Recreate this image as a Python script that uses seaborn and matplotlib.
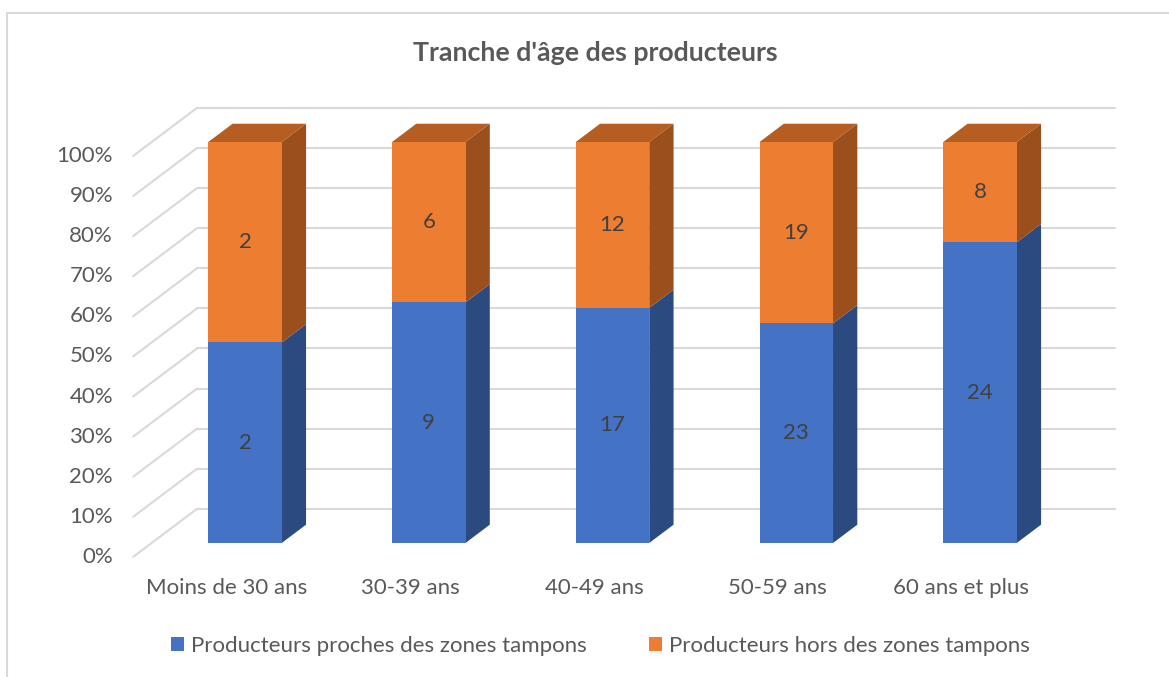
import numpy as np
import pandas as pd
import matplotlib
matplotlib.use("Agg")
import matplotlib.pyplot as plt
from matplotlib.patches import Polygon, Patch
from matplotlib.lines import Line2D
import seaborn as sns

# Data
categories = ["Moins de 30 ans", "30-39 ans", "40-49 ans", "50-59 ans", "60 ans et plus"]
proches = [2, 9, 17, 23, 24]
hors = [2, 6, 12, 19, 8]
series_names = ["Producteurs proches des zones tampons", "Producteurs hors des zones tampons"]
y_ticks = [0, 10, 20, 30, 40, 50, 60, 70, 80, 90, 100]
title = "Tranche d'âge des producteurs"

# Colours (Excel office palette + shaded 3D faces)
blue, blue_side = "#4472C4", "#2B4A80"
orange, orange_side, orange_top = "#ED7D31", "#9A4F1D", "#B65D22"
grid_col = "#D9D9D9"
text_col = "#595959"
FS = 16

sns.set_theme(style="white")
plt.rcParams['font.family'] = ['Lato', 'DejaVu Sans']

df = pd.DataFrame({
    "cat": categories,
    "total": 100.0,
    "proches_pct": [100 * p / (p + h) for p, h in zip(proches, hors)],
})

fig = plt.figure(figsize=(11.69, 6.77), dpi=100)
ax = fig.add_axes([61.25 / 1169, (677 - 599.1) / 677,
                   (1145.4 - 61.25) / 1169, (599.1 - 93.9) / 677])

# pseudo 3D: depth d in [0, 1] (front floor -> back wall), bars sit between D0 and D1
DX, DY = 0.348, 12.0
D0, D1 = 0.29, 0.67
W = 0.40


def proj(x, p, d):
    return x + DX * (d - D0), p + DY * (d - D0)


x_left, x_right = -0.508, 4.488
for t in y_ticks:
    a, b = proj(x_left, t, 1), proj(x_right, t, 1)
    ax.plot([a[0], b[0]], [a[1], b[1]], color=grid_col, lw=1.5, zorder=0)
    c = proj(x_left, t, 0)
    ax.plot([c[0], a[0]], [c[1], a[1]], color=grid_col, lw=1.5, zorder=0)
    ax.text(-0.718, t - DY * D0, f"{t}%", ha="right", va="center",
            fontsize=FS, color=text_col)

# front faces
sns.barplot(data=df, x="cat", y="total", color=orange, width=W, saturation=1,
            linewidth=0, ax=ax, zorder=3)
sns.barplot(data=df, x="cat", y="proches_pct", color=blue, width=W, saturation=1,
            linewidth=0, ax=ax, zorder=3)

# side and top faces
for i, pb in enumerate(df["proches_pct"]):
    xl, xr = i - W / 2, i + W / 2
    for lo, hi, col in [(0, pb, blue_side), (pb, 100, orange_side)]:
        pts = [proj(xr, lo, D0), proj(xr, lo, D1), proj(xr, hi, D1), proj(xr, hi, D0)]
        ax.add_patch(Polygon(pts, closed=True, facecolor=col, edgecolor="none", zorder=2))
    top = [proj(xl, 100, D0), proj(xr, 100, D0), proj(xr, 100, D1), proj(xl, 100, D1)]
    ax.add_patch(Polygon(top, closed=True, facecolor=orange_top, edgecolor="none", zorder=2))
    ax.text(i, pb / 2, str(proches[i]), ha="center", va="center", fontsize=FS,
            color="#404040", zorder=5)
    ax.text(i, pb + (100 - pb) / 2, str(hors[i]), ha="center", va="center",
            fontsize=FS, color="#404040", zorder=5)
    ax.text(i - DX * D0, -11.2, categories[i], ha="center", va="center",
            fontsize=FS, color=text_col, clip_on=False)

ax.set_xlim(-1.0, 4.9)
ax.set_ylim(-14, 112)
ax.axis("off")

fig.text(595 / 1169, 1 - 53 / 677, title, ha="center", va="center",
         fontsize=19.3, fontweight="bold", color=text_col)

handles = [Patch(facecolor=blue, edgecolor="none"), Patch(facecolor=orange, edgecolor="none")]
fig.legend(handles, series_names, loc="center", bbox_to_anchor=(600 / 1169, 1 - 646 / 677),
           ncol=2, frameon=False, fontsize=FS, handlelength=0.6, handleheight=0.6,
           handletextpad=0.3, columnspacing=2.8, labelcolor=text_col)

# chart area border (partly cropped in the reference)
fig.add_artist(Line2D([7 / 1169, 1], [1 - 13 / 677, 1 - 13 / 677], color=grid_col, lw=1.5,
                      transform=fig.transFigure))
fig.add_artist(Line2D([7 / 1169, 7 / 1169], [0, 1 - 13 / 677], color=grid_col, lw=1.5,
                      transform=fig.transFigure))

fig.savefig("out.png", dpi=100)
